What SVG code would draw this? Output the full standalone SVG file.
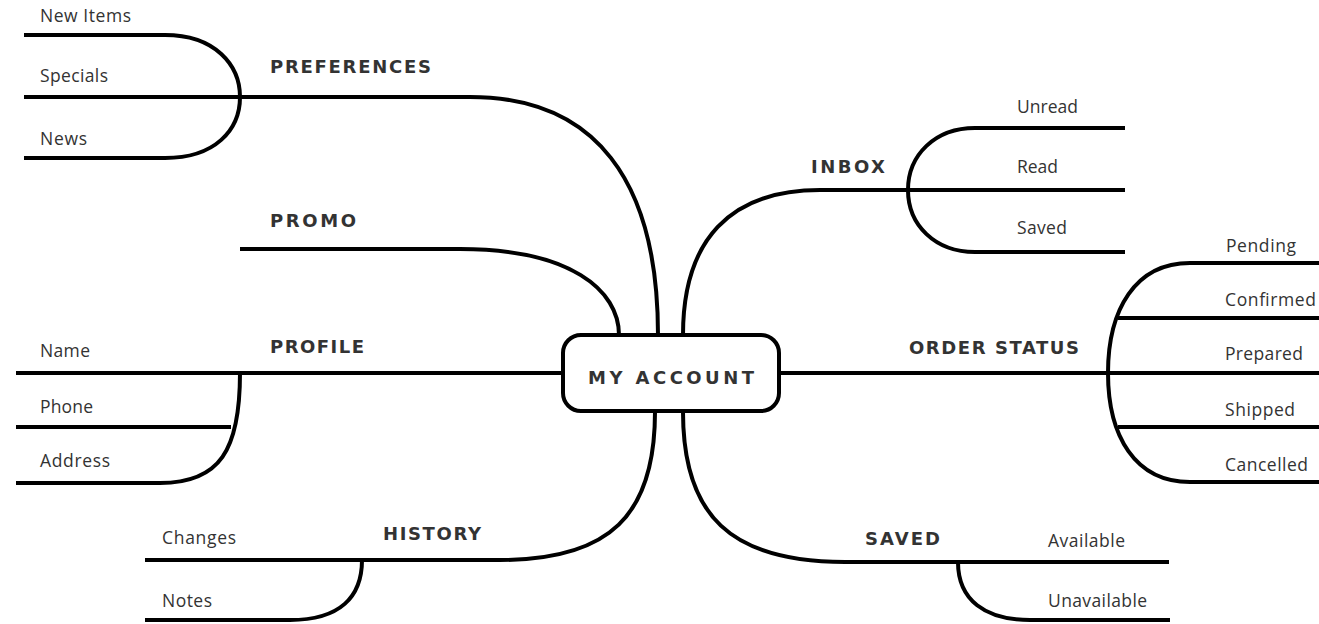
<svg xmlns="http://www.w3.org/2000/svg" width="1319" height="624" viewBox="0 0 1319 624">
<style>
.ln{fill:none;stroke:#000;stroke-width:4;stroke-linecap:butt}
.hd{font-family:"DejaVu Sans","Liberation Sans",sans-serif;font-weight:bold;font-size:18px;fill:#333}
.lb{font-family:"Open Sans","Liberation Sans",sans-serif;font-size:17.5px;fill:#333}
</style>
<rect width="1319" height="624" fill="#fff"/>
<g id="connectors">
<path class="ln" d="M240,97 H470 C595,97 658,180 658,335"/>
<path class="ln" d="M240,249 H460 C570,249 619,290 619,335"/>
<path class="ln" d="M16,373 H563"/>
<path class="ln" d="M655,412 C655,515 610,560 500,560 H145"/>
<path class="ln" d="M683,335 C683,240 730,190 820,190 H1125"/>
<path class="ln" d="M780,373 H1319"/>
<path class="ln" d="M683,412 C683,515 730,562 845,562 H1169"/>
<path class="ln" d="M24,97 H240"/>
<path class="ln" d="M24,35 H165 C215,35 240,65 240,97 C240,130 215,158 165,158 H24"/>
<path class="ln" d="M240,373 C240,450 220,483 160,483 H16"/>
<path class="ln" d="M16,427 H231"/>
<path class="ln" d="M362,560 C362,597 340,620 290,620 H145"/>
<path class="ln" d="M1125,128 H975 C935,128 908,155 908,190 C908,225 935,252 975,252 H1125"/>
<path class="ln" d="M1319,263 H1190 C1135,263 1108,310 1108,373 C1108,436 1135,482 1190,482 H1319"/>
<path class="ln" d="M1118,318 H1319"/>
<path class="ln" d="M1118,427 H1319"/>
<path class="ln" d="M958,562 C958,600 985,620 1030,620 H1170"/>
</g>
<g id="my-account">
<rect x="563" y="335" width="216" height="76" rx="18" ry="18" fill="#fff" stroke="#000" stroke-width="4"/>
<text class="hd" x="588" y="384" font-size="20" textLength="166" lengthAdjust="spacing">MY ACCOUNT</text>
</g>
<g id="preferences"><text class="hd" x="270" y="73" textLength="161" lengthAdjust="spacing">PREFERENCES</text></g>
<g id="new-items"><text class="lb" x="40" y="22" textLength="91" lengthAdjust="spacing">New Items</text></g>
<g id="specials"><text class="lb" x="40" y="82" textLength="68" lengthAdjust="spacing">Specials</text></g>
<g id="news"><text class="lb" x="40" y="145" textLength="47" lengthAdjust="spacing">News</text></g>
<g id="promo"><text class="hd" x="270" y="227" textLength="86" lengthAdjust="spacing">PROMO</text></g>
<g id="profile"><text class="hd" x="270" y="353" textLength="94" lengthAdjust="spacing">PROFILE</text></g>
<g id="name"><text class="lb" x="40" y="357" textLength="50" lengthAdjust="spacing">Name</text></g>
<g id="phone"><text class="lb" x="40" y="413" textLength="53" lengthAdjust="spacing">Phone</text></g>
<g id="address"><text class="lb" x="40" y="467" textLength="70" lengthAdjust="spacing">Address</text></g>
<g id="history"><text class="hd" x="383" y="540" textLength="98" lengthAdjust="spacing">HISTORY</text></g>
<g id="changes"><text class="lb" x="162" y="544" textLength="74" lengthAdjust="spacing">Changes</text></g>
<g id="notes"><text class="lb" x="162" y="607" textLength="50" lengthAdjust="spacing">Notes</text></g>
<g id="inbox"><text class="hd" x="811" y="173" textLength="74" lengthAdjust="spacing">INBOX</text></g>
<g id="unread"><text class="lb" x="1017" y="113" textLength="61" lengthAdjust="spacing">Unread</text></g>
<g id="read"><text class="lb" x="1017" y="173" textLength="41" lengthAdjust="spacing">Read</text></g>
<g id="saved-msg"><text class="lb" x="1017" y="234" textLength="50" lengthAdjust="spacing">Saved</text></g>
<g id="order-status"><text class="hd" x="909" y="354" textLength="170" lengthAdjust="spacing">ORDER STATUS</text></g>
<g id="pending"><text class="lb" x="1226" y="252" textLength="70" lengthAdjust="spacing">Pending</text></g>
<g id="confirmed"><text class="lb" x="1225" y="306" textLength="91" lengthAdjust="spacing">Confirmed</text></g>
<g id="prepared"><text class="lb" x="1225" y="360" textLength="78" lengthAdjust="spacing">Prepared</text></g>
<g id="shipped"><text class="lb" x="1225" y="416" textLength="70" lengthAdjust="spacing">Shipped</text></g>
<g id="cancelled"><text class="lb" x="1225" y="471" textLength="83" lengthAdjust="spacing">Cancelled</text></g>
<g id="saved"><text class="hd" x="865" y="545" textLength="75" lengthAdjust="spacing">SAVED</text></g>
<g id="available"><text class="lb" x="1048" y="547" textLength="77" lengthAdjust="spacing">Available</text></g>
<g id="unavailable"><text class="lb" x="1048" y="607" textLength="99" lengthAdjust="spacing">Unavailable</text></g>
</svg>
